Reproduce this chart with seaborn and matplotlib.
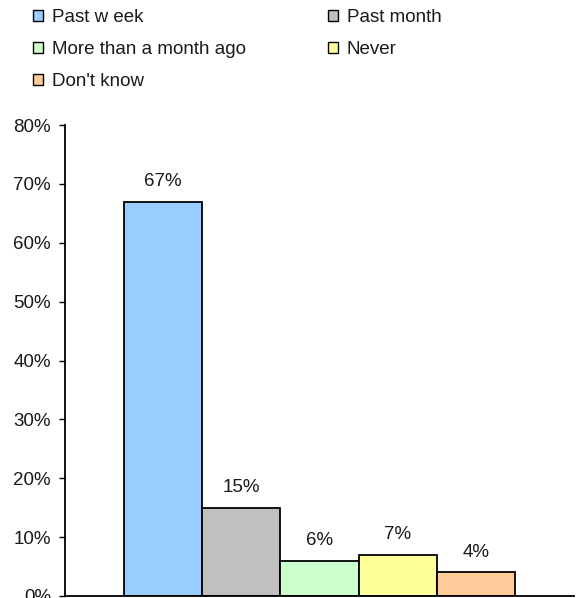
import matplotlib
matplotlib.use("Agg")
import matplotlib.pyplot as plt
from matplotlib.patches import Patch
from matplotlib.ticker import PercentFormatter
import seaborn as sns
import pandas as pd

categories = ["Past w eek", "Past month", "More than a month ago", "Never", "Don't know"]
values = [67, 15, 6, 7, 4]
colors = ["#99ccff", "#c0c0c0", "#ccffcc", "#ffff99", "#ffcc99"]
yticks = [0, 10, 20, 30, 40, 50, 60, 70, 80]

sns.set_theme(style="white")
plt.rcParams["font.family"] = ["Liberation Sans", "DejaVu Sans"]
FS = 13.5

df = pd.DataFrame({"group": [""] * len(categories), "answer": categories, "pct": values})

fig = plt.figure(figsize=(5.76, 5.98), dpi=100)
ax = fig.add_axes([65 / 576, 2 / 598, 509 / 576, 471 / 598])

sns.barplot(data=df, x="group", y="pct", hue="answer", hue_order=categories,
            palette=colors, width=0.77, edgecolor="black", linewidth=1.3,
            saturation=1, legend=False, ax=ax)

for container, v in zip(ax.containers, values):
    ax.bar_label(container, labels=[f"{v}%"], padding=8.5, fontsize=FS, color="#1a1a1a")

ax.set_ylim(0, 80)
ax.set_yticks(yticks)
ax.yaxis.set_major_formatter(PercentFormatter(decimals=0))
ax.tick_params(axis="y", length=4, width=1, color="black", labelsize=FS, pad=6,
               left=True, labelcolor="#1a1a1a")
ax.tick_params(axis="x", bottom=False, labelbottom=False)
ax.set_xlabel("")
ax.set_ylabel("")
for side in ["top", "right"]:
    ax.spines[side].set_visible(False)
for side in ["left", "bottom"]:
    ax.spines[side].set_color("black")
    ax.spines[side].set_linewidth(1.3)

# legend reads row by row: reorder for matplotlib's column-major fill
order = [0, 2, 4, 1, 3]
handles = [Patch(facecolor=colors[i], edgecolor="black", linewidth=1) for i in order]
labels = [categories[i] for i in order]
fig.legend(handles, labels, ncol=2, loc="upper left",
           bbox_to_anchor=(16 / 576, 1 + 8 / 598), frameon=False, fontsize=FS,
           handlelength=0.55, handleheight=0.55, handletextpad=0.45,
           columnspacing=4.4, labelspacing=0.8, labelcolor="#1a1a1a")

fig.savefig("out.png", dpi=100)
